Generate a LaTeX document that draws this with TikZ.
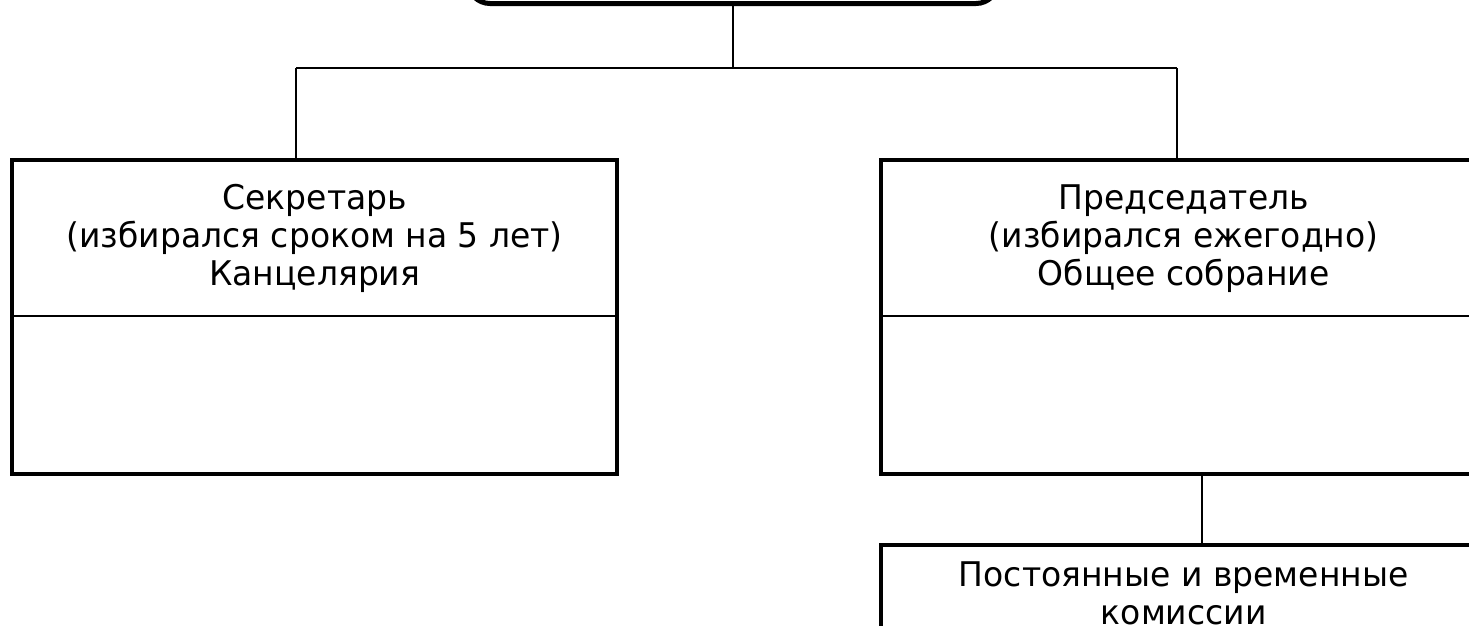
\documentclass[tikz,border=0pt]{standalone}
\usepackage{fontspec}
\setmainfont[FakeStretch=0.97]{DejaVu Sans}
\usetikzlibrary{positioning, calc}

\begin{document}
\begin{tikzpicture}[
    x=1pt, y=-1pt,
    headbox/.style={minimum width=605pt, minimum height=156pt, inner sep=0pt, align=center, font=\fontsize{34}{38}\selectfont},
    bodybox/.style={minimum width=605pt, minimum height=157pt, inner sep=0pt},
    rootbox/.style={draw, line width=5pt, rounded corners=22pt, minimum width=530pt, minimum height=120pt},
    frame/.style={line width=4pt},
    divider/.style={line width=2pt},
    link/.style={line width=2pt}
]
    \useasboundingbox (0,0) rectangle (1469,625);

    \node[rootbox, anchor=south] (root) at (733,6) {};

    \node[headbox, anchor=north west] (secr) at (12,160) {Секретарь\\(избирался сроком на 5 лет)\\Канцелярия};
    \node[bodybox, below=0pt of secr] (secrbody) {};
    \draw[frame] (secr.north west) rectangle (secrbody.south east);
    \draw[divider] (secr.south west) -- (secr.south east);

    \node[headbox, anchor=north west] (pred) at (881,160) {Председатель\\(избирался ежегодно)\\Общее собрание};
    \node[bodybox, below=0pt of pred] (predbody) {};
    \draw[frame] (pred.north west) rectangle (predbody.south east);
    \draw[divider] (pred.south west) -- (pred.south east);

    \node[headbox, minimum height=96pt, anchor=north west] (kom) at (881,545) {Постоянные и временные\\комиссии};
    \draw[frame] (kom.north west) rectangle ++(605,110);

    % Links
    \coordinate (busl) at (296,68);
    \coordinate (busr) at (1177,68);
    \coordinate (komtop) at (1202,545);
    \draw[link] (root.south) -- (root.south |- busl);
    \draw[link] (busl) -- (busr);
    \draw[link] (busl) -- (busl |- secr.north);
    \draw[link] (busr) -- (busr |- pred.north);
    \draw[link] (komtop |- predbody.south) -- (komtop);
\end{tikzpicture}
\end{document}
